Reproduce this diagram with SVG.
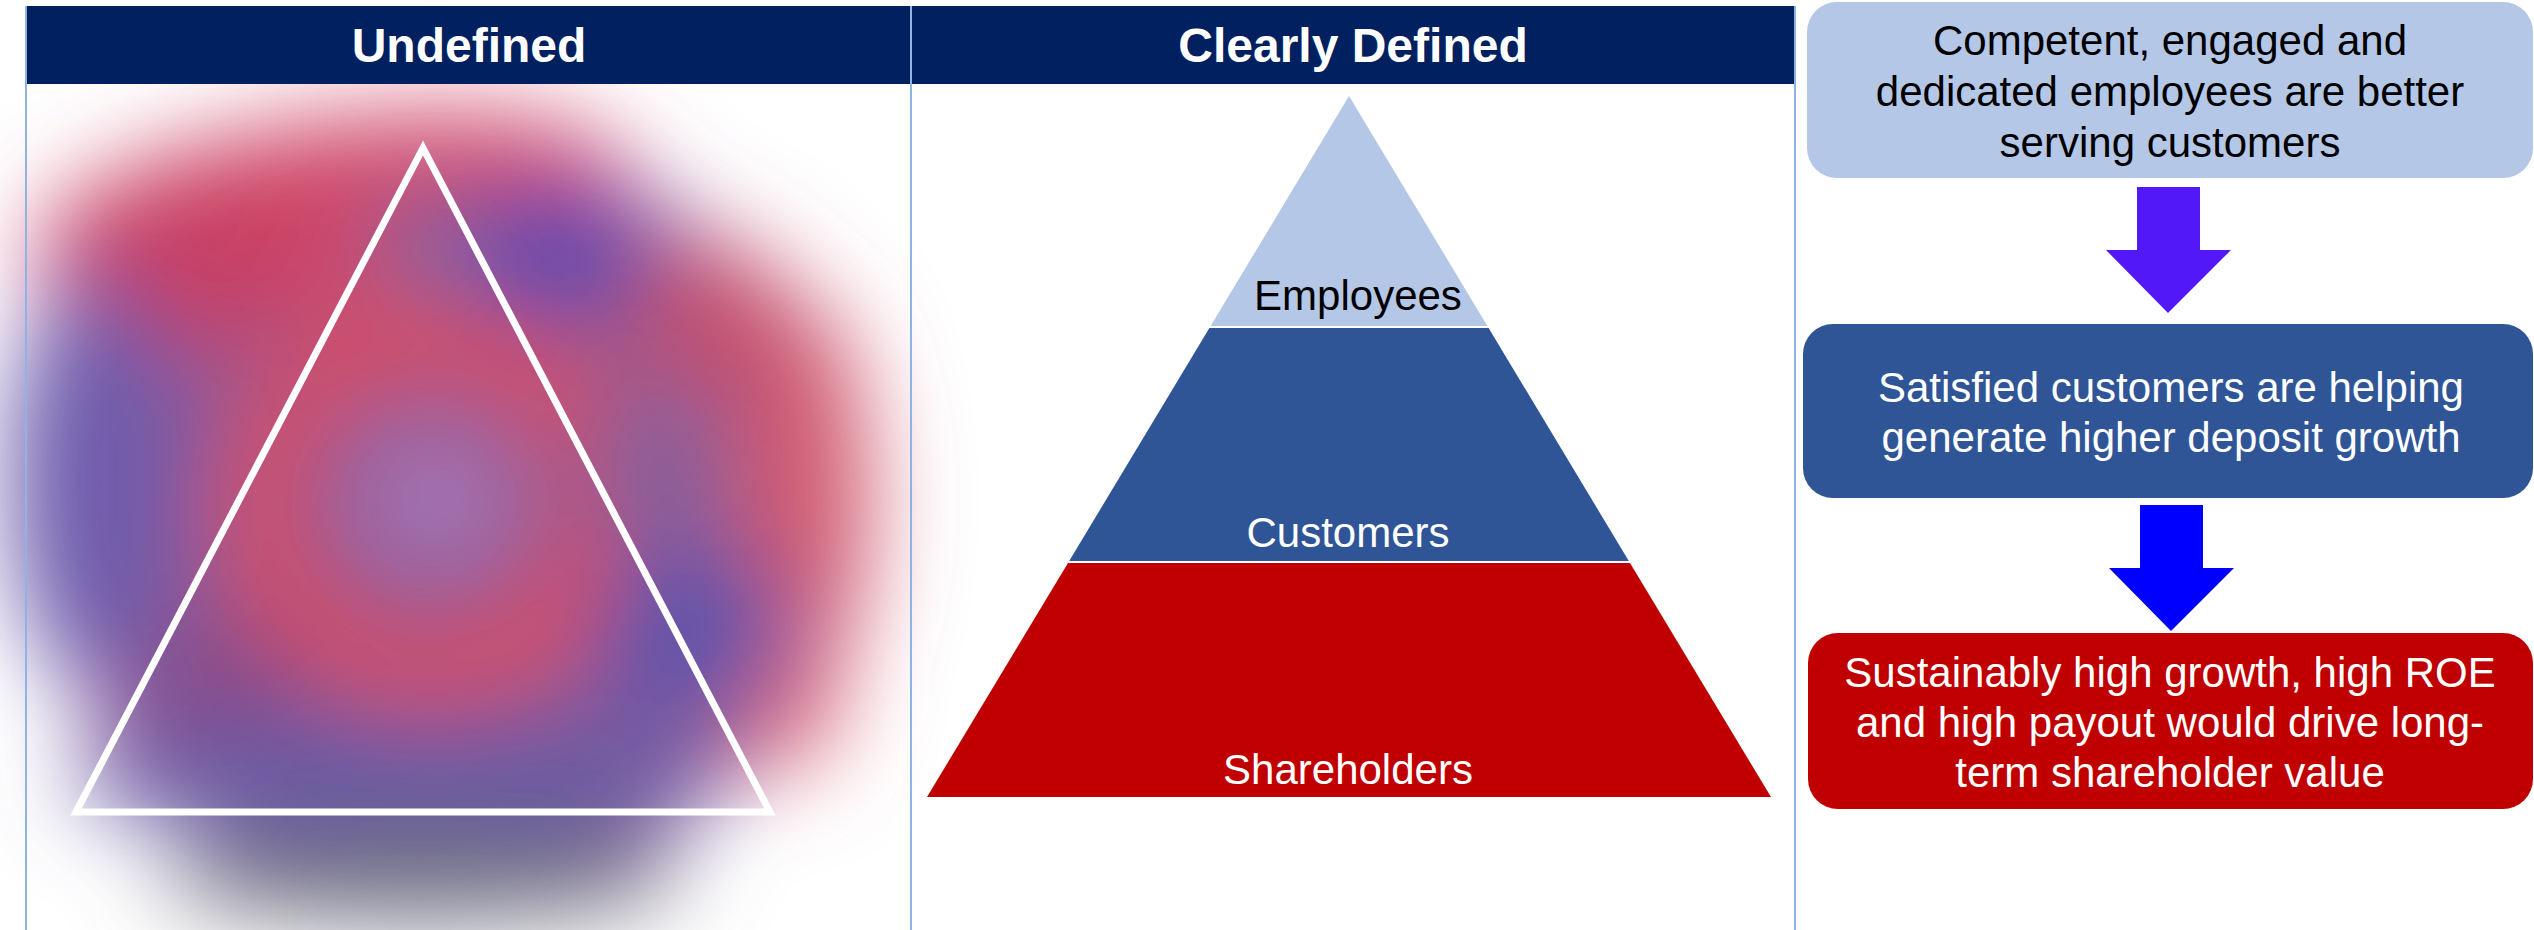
<svg xmlns="http://www.w3.org/2000/svg" width="2534" height="930" viewBox="0 0 2534 930">
<style>
.hdr{fill:#002060}
.hdrtxt{font-family:"Liberation Sans",Arial,sans-serif;font-weight:bold;font-size:48px;fill:#ffffff;text-anchor:middle}
.lbl{font-family:"Liberation Sans",Arial,sans-serif;font-size:42px;text-anchor:middle}
.div{stroke:#8db4e2;stroke-width:2;fill:none}
</style>
<defs>
<filter id="blur" x="-30%" y="-30%" width="160%" height="160%">
<feGaussianBlur stdDeviation="46"/>
</filter>
</defs>
<rect width="2534" height="930" fill="#ffffff"/>
<g id="blob" filter="url(#blur)">
<ellipse cx="440" cy="520" rx="395" ry="385" fill="#8c5a96"/>
<ellipse cx="330" cy="215" rx="300" ry="95" fill="#d04668" transform="rotate(-8 330 215)"/>
<ellipse cx="180" cy="265" rx="120" ry="90" fill="#c84064"/>
<ellipse cx="800" cy="500" rx="70" ry="200" fill="#d05a70"/>
<ellipse cx="780" cy="690" rx="60" ry="80" fill="#d86474"/>
<ellipse cx="710" cy="320" rx="80" ry="80" fill="#c2506e"/>
<ellipse cx="95" cy="480" rx="85" ry="210" fill="#6e5cac"/>
<ellipse cx="545" cy="250" rx="95" ry="60" fill="#5548b2"/>
<ellipse cx="430" cy="245" rx="60" ry="45" fill="#7868a6"/>
<ellipse cx="430" cy="505" rx="170" ry="165" fill="none" stroke="#d84e5e" stroke-width="80"/>
<ellipse cx="435" cy="500" rx="75" ry="65" fill="#a874b4"/>
<ellipse cx="650" cy="470" rx="60" ry="90" fill="#80609e"/>
<ellipse cx="690" cy="630" rx="95" ry="85" fill="#5a54ac"/>
<ellipse cx="220" cy="690" rx="90" ry="70" fill="#8a4c88"/>
<ellipse cx="400" cy="775" rx="330" ry="65" fill="#6a5aa4"/>
<ellipse cx="420" cy="875" rx="260" ry="45" fill="#6e6e7e"/>
</g>
<g id="undefined-triangle">
<polygon points="423,148 770,812 76,812" fill="none" stroke="#ffffff" stroke-width="7" stroke-linejoin="miter"/>
</g>
<g id="headers">
<rect class="hdr" x="26" y="6" width="1769" height="78"/>
<text class="hdrtxt" x="469" y="62">Undefined</text>
<text class="hdrtxt" x="1353" y="62">Clearly Defined</text>
</g>
<g id="dividers">
<line class="div" x1="26" y1="6" x2="26" y2="930"/>
<line class="div" x1="911" y1="6" x2="911" y2="930"/>
<line class="div" x1="1795" y1="6" x2="1795" y2="930"/>
</g>
<g id="pyramid-employees">
<polygon points="1349,96 1487.4,326 1210.6,326" fill="#b4c7e7"/>
<text class="lbl" x="1358" y="310" fill="#000000">Employees</text>
</g>
<g id="pyramid-customers">
<polygon points="1209.4,328 1488.6,328 1628.8,561 1069.2,561" fill="#2f5597"/>
<text class="lbl" x="1348" y="547" fill="#ffffff">Customers</text>
</g>
<g id="pyramid-shareholders">
<polygon points="1068,563 1630,563 1771,797 927,797" fill="#c00000"/>
<text class="lbl" x="1348" y="784" fill="#ffffff">Shareholders</text>
</g>
<g id="box-employees">
<rect x="1807" y="2" width="726" height="176" rx="30" fill="#b4c7e7"/>
<text class="lbl" fill="#000000"><tspan x="2170" y="55">Competent, engaged and</tspan><tspan x="2170" y="106">dedicated employees are better</tspan><tspan x="2170" y="157">serving customers</tspan></text>
</g>
<g id="box-customers">
<rect x="1803" y="324" width="730" height="174" rx="30" fill="#2f5597"/>
<text class="lbl" fill="#ffffff"><tspan x="2171" y="402">Satisfied customers are helping</tspan><tspan x="2171" y="452">generate higher deposit growth</tspan></text>
</g>
<g id="box-shareholders">
<rect x="1808" y="633" width="725" height="176" rx="30" fill="#c00000"/>
<text class="lbl" fill="#ffffff"><tspan x="2170" y="687">Sustainably high growth, high ROE</tspan><tspan x="2170" y="737">and high payout would drive long-</tspan><tspan x="2170" y="787">term shareholder value</tspan></text>
</g>
<g id="connectors">
<polygon points="2137,187 2200,187 2200,250 2231,250 2168,313 2106,250 2137,250" fill="#5218f8"/>
<polygon points="2140,505 2203,505 2203,568 2234,568 2171,631 2109,568 2140,568" fill="#0000ff"/>
</g>
</svg>
